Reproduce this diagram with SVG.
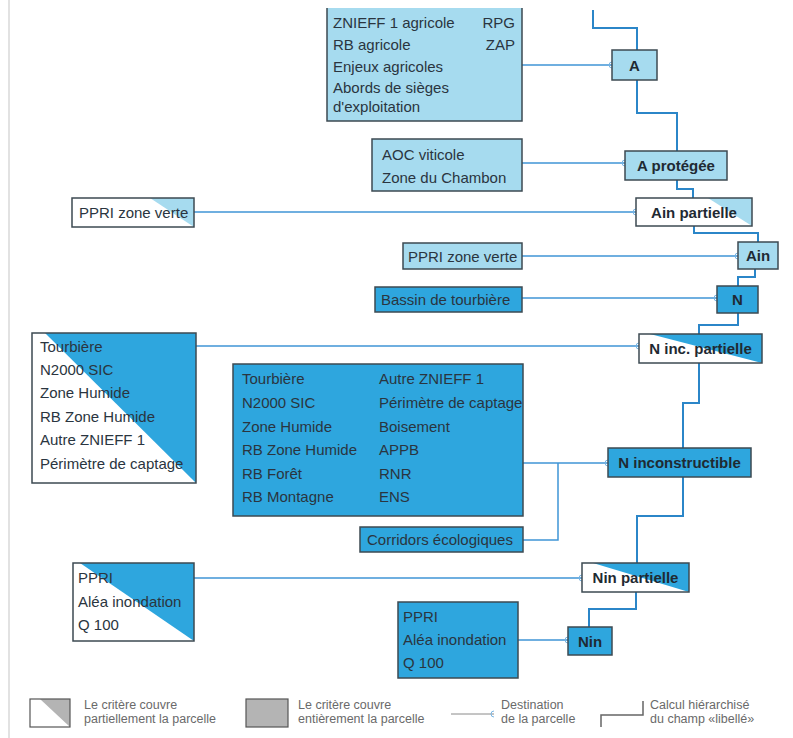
<svg xmlns="http://www.w3.org/2000/svg" width="793" height="738" viewBox="0 0 793 738">
<style>
.t{font-family:"Liberation Sans",Arial,sans-serif;font-size:15px;fill:#2a3540}
.b{font-family:"Liberation Sans",Arial,sans-serif;font-size:15px;font-weight:bold;fill:#1f2a33;text-anchor:middle}
.lg{font-family:"Liberation Sans",Arial,sans-serif;font-size:12.5px;fill:#6a6a6a}
.bd{fill:none;stroke:#3d4a52;stroke-width:1.5}
.lb{fill:#a6dbef}
.db{fill:#2ea6de}
.wh{fill:#ffffff}
.h{fill:none;stroke:#2b86c8;stroke-width:2}
.d{fill:none;stroke:#3f95d6;stroke-width:1.5;marker-end:url(#hook)}
</style>
<defs>
<marker id="hook" markerUnits="userSpaceOnUse" markerWidth="8" markerHeight="10" refX="5" refY="5" orient="auto" overflow="visible">
<path d="M5,2 A3,3 0 0 0 5,8" fill="none" stroke="#7ab6e4" stroke-width="1"/>
</marker>
</defs>
<rect width="793" height="738" fill="#ffffff"/>
<line x1="9" y1="0" x2="9" y2="738" stroke="#cfcfcf" stroke-width="1.2"/>

<g id="connectors">
<!-- hierarchy -->
<path class="h" d="M593,10 V28 H637 V50"/>
<path class="h" d="M637,80 V113 H677 V151"/>
<path class="h" d="M677,180 V189 H693 V198"/>
<path class="h" d="M694,226 V233 H758 V242"/>
<path class="h" d="M755,269 V277 H738 V286"/>
<path class="h" d="M738,313 V325 H699 V334"/>
<path class="h" d="M699,363 V403 H683 V448"/>
<path class="h" d="M683,477 V516 H637 V563"/>
<path class="h" d="M636,592 V609 H589 V627"/>
<!-- destinations -->
<path class="d" d="M522,65 H612"/>
<path class="d" d="M522,163 H625"/>
<path class="d" d="M194,212 H636"/>
<path class="d" d="M522,256 H738"/>
<path class="d" d="M522,298 H717"/>
<path class="d" d="M196,346 H639"/>
<path class="d" d="M523,463 H608"/>
<path class="d" d="M523,540 H558 V463" style="marker-end:none"/>
<path class="d" d="M194,578 H582"/>
<path class="d" d="M518,640 H568"/>
</g>

<g id="crit-agricole">
<rect class="lb" x="327" y="8" width="195" height="113"/>
<path class="bd" d="M327,8 V121 H522 V8"/>
<text class="t" x="333" y="28">ZNIEFF 1 agricole</text>
<text class="t" x="333" y="50">RB agricole</text>
<text class="t" x="333" y="72">Enjeux agricoles</text>
<text class="t" x="333" y="93">Abords de sièges</text>
<text class="t" x="333" y="112">d'exploitation</text>
<text class="t" x="515" y="28" text-anchor="end">RPG</text>
<text class="t" x="515" y="50" text-anchor="end">ZAP</text>
</g>

<g id="n-A">
<rect class="lb" x="612" y="50" width="45" height="30"/>
<rect class="bd" x="612" y="50" width="45" height="30"/>
<text class="b" x="634.5" y="70.5">A</text>
</g>

<g id="crit-aoc">
<rect class="lb" x="372" y="139" width="150" height="52"/>
<rect class="bd" x="372" y="139" width="150" height="52"/>
<text class="t" x="382" y="160">AOC viticole</text>
<text class="t" x="382" y="183">Zone du Chambon</text>
</g>

<g id="n-Aprotegee">
<rect class="lb" x="625" y="151" width="102" height="29"/>
<rect class="bd" x="625" y="151" width="102" height="29"/>
<text class="b" x="676" y="171">A protégée</text>
</g>

<g id="crit-ppri-verte-partiel">
<rect class="wh" x="72" y="198" width="122" height="29"/>
<polygon class="lb" points="150,198 194,198 194,227"/>
<rect class="bd" x="72" y="198" width="122" height="29"/>
<text class="t" x="79" y="218">PPRI zone verte</text>
</g>

<g id="n-Ainpartielle">
<rect class="wh" x="636" y="198" width="116" height="28"/>
<polygon class="lb" points="708,198 752,198 752,226"/>
<rect class="bd" x="636" y="198" width="116" height="28"/>
<text class="b" x="694" y="217.5">Ain partielle</text>
</g>

<g id="crit-ppri-verte">
<rect class="lb" x="403" y="243" width="119" height="26"/>
<rect class="bd" x="403" y="243" width="119" height="26"/>
<text class="t" x="408" y="261.5">PPRI zone verte</text>
</g>

<g id="n-Ain">
<rect class="lb" x="738" y="242" width="40" height="27"/>
<rect class="bd" x="738" y="242" width="40" height="27"/>
<text class="b" x="758" y="261">Ain</text>
</g>

<g id="crit-bassin">
<rect class="db" x="375" y="287" width="147" height="25"/>
<rect class="bd" x="375" y="287" width="147" height="25"/>
<text class="t" x="381" y="304.5">Bassin de tourbière</text>
</g>

<g id="n-N">
<rect class="db" x="717" y="286" width="41" height="27"/>
<rect class="bd" x="717" y="286" width="41" height="27"/>
<text class="b" x="737.5" y="305">N</text>
</g>

<g id="crit-tourbiere-partiel">
<rect class="wh" x="32" y="333" width="164" height="150"/>
<polygon class="db" points="45,333 196,333 196,483"/>
<rect class="bd" x="32" y="333" width="164" height="150"/>
<text class="t" x="40" y="352">Tourbière</text>
<text class="t" x="40" y="375">N2000 SIC</text>
<text class="t" x="40" y="398">Zone Humide</text>
<text class="t" x="40" y="422">RB Zone Humide</text>
<text class="t" x="40" y="445">Autre ZNIEFF 1</text>
<text class="t" x="40" y="469">Périmètre de captage</text>
</g>

<g id="n-Nincpartielle">
<rect class="wh" x="639" y="334" width="123" height="29"/>
<polygon class="db" points="650,334 762,334 762,363"/>
<rect class="bd" x="639" y="334" width="123" height="29"/>
<text class="b" x="700.5" y="354">N inc. partielle</text>
</g>

<g id="crit-naturel">
<rect class="db" x="233" y="364" width="290" height="152"/>
<rect class="bd" x="233" y="364" width="290" height="152"/>
<text class="t" x="242" y="384">Tourbière</text>
<text class="t" x="242" y="408">N2000 SIC</text>
<text class="t" x="242" y="432">Zone Humide</text>
<text class="t" x="242" y="455">RB Zone Humide</text>
<text class="t" x="242" y="479">RB Forêt</text>
<text class="t" x="242" y="502">RB Montagne</text>
<text class="t" x="379" y="384">Autre ZNIEFF 1</text>
<text class="t" x="379" y="408">Périmètre de captage</text>
<text class="t" x="379" y="432">Boisement</text>
<text class="t" x="379" y="455">APPB</text>
<text class="t" x="379" y="479">RNR</text>
<text class="t" x="379" y="502">ENS</text>
</g>

<g id="crit-corridors">
<rect class="db" x="360" y="527" width="163" height="25"/>
<rect class="bd" x="360" y="527" width="163" height="25"/>
<text class="t" x="367" y="545">Corridors écologiques</text>
</g>

<g id="n-Ninconstructible">
<rect class="db" x="608" y="448" width="143" height="29"/>
<rect class="bd" x="608" y="448" width="143" height="29"/>
<text class="b" x="679.5" y="468">N inconstructible</text>
</g>

<g id="crit-ppri-partiel">
<rect class="wh" x="73" y="563" width="121" height="78"/>
<polygon class="db" points="80,563 194,563 194,641"/>
<rect class="bd" x="73" y="563" width="121" height="78"/>
<text class="t" x="78" y="583">PPRI</text>
<text class="t" x="78" y="607">Aléa inondation</text>
<text class="t" x="78" y="630">Q 100</text>
</g>

<g id="n-Ninpartielle">
<rect class="wh" x="582" y="563" width="107" height="29"/>
<polygon class="db" points="593,563 689,563 689,592"/>
<rect class="bd" x="582" y="563" width="107" height="29"/>
<text class="b" x="635.5" y="583">Nin partielle</text>
</g>

<g id="crit-ppri">
<rect class="db" x="398" y="602" width="120" height="76"/>
<rect class="bd" x="398" y="602" width="120" height="76"/>
<text class="t" x="403" y="622">PPRI</text>
<text class="t" x="403" y="645">Aléa inondation</text>
<text class="t" x="403" y="668">Q 100</text>
</g>

<g id="n-Nin">
<rect class="db" x="568" y="627" width="44" height="28"/>
<rect class="bd" x="568" y="627" width="44" height="28"/>
<text class="b" x="590" y="646.5">Nin</text>
</g>

<g id="legend">
<rect class="wh" x="30" y="699" width="40" height="28"/>
<polygon points="40,699 70,699 70,727" fill="#b4b4b4"/>
<rect x="30" y="699" width="40" height="28" fill="none" stroke="#555" stroke-width="1.2"/>
<text class="lg" x="84" y="709">Le critère couvre</text>
<text class="lg" x="84" y="723">partiellement la parcelle</text>
<rect x="246" y="699" width="42" height="28" fill="#b4b4b4" stroke="#555" stroke-width="1.2"/>
<text class="lg" x="298" y="709">Le critère couvre</text>
<text class="lg" x="298" y="723">entièrement la parcelle</text>
<path d="M451,714 H494" fill="none" stroke="#8a8a8a" stroke-width="1" marker-end="url(#hook)"/>
<text class="lg" x="501" y="709">Destination</text>
<text class="lg" x="501" y="723">de la parcelle</text>
<path d="M601,727 V715 H643 V701" fill="none" stroke="#666" stroke-width="1.5"/>
<text class="lg" x="650" y="709">Calcul hiérarchisé</text>
<text class="lg" x="650" y="723">du champ «libellé»</text>
</g>
</svg>
